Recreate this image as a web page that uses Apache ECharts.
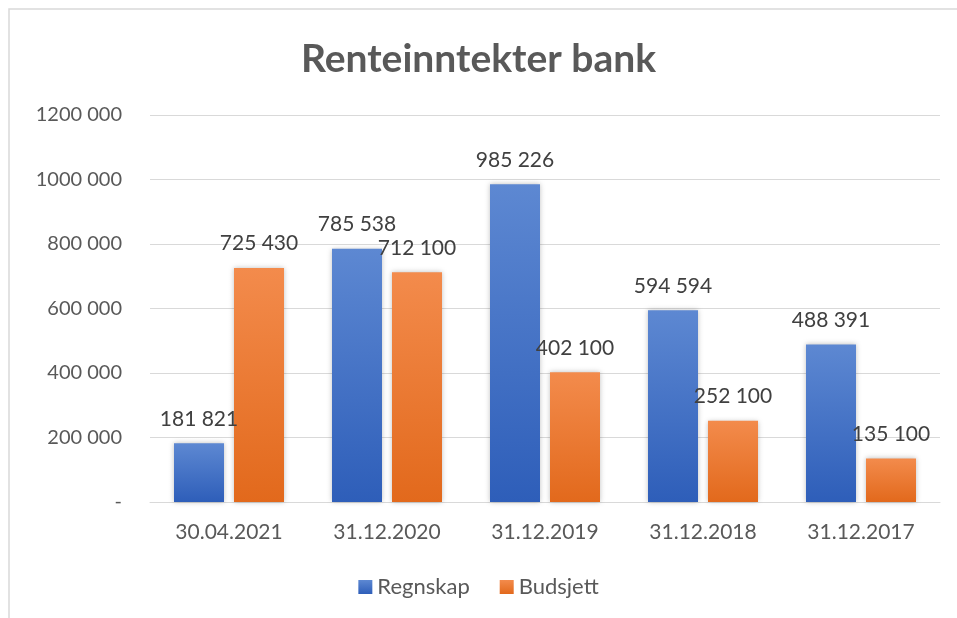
<!DOCTYPE html>
<html lang="no">
<head>
    <meta charset="UTF-8">
    <title>Renteinntekter bank</title>
    <script src="https://cdn.jsdelivr.net/npm/echarts@6/dist/echarts.min.js"></script>
    <style>
        html, body { margin: 0; padding: 0; background: #fff; }
    </style>
</head>
<body>
<div id="main" style="width: 957px; height: 618px;"></div>
<script type="text/javascript">
    // data
    var datoer = ['30.04.2021', '31.12.2020', '31.12.2019', '31.12.2018', '31.12.2017'];
    var regnskap = [181821, 785538, 985226, 594594, 488391];
    var budsjett = [725430, 712100, 402100, 252100, 135100];
    var yTekster = ['-', '200 000', '400 000', '600 000', '800 000', '1000 000', '1200 000'];

    var fontFam = 'Lato, "Open Sans", sans-serif';

    function tall(v) {
        return String(v).replace(/\B(?=(\d{3})+(?!\d))/g, ' ');
    }

    function grad(top, bottom) {
        return new echarts.graphic.LinearGradient(0, 0, 0, 1, [
            {offset: 0, color: top},
            {offset: 1, color: bottom}
        ]);
    }

    var myChart = echarts.init(document.getElementById('main'));

    var option = {
        backgroundColor: '#fff',
        title: {
            text: 'Renteinntekter bank',
            left: 'center',
            top: 35,
            textStyle: {
                fontFamily: fontFam,
                fontSize: 39,
                fontWeight: 'bold',
                color: '#595959'
            }
        },
        graphic: [{
            type: 'rect',
            shape: {x: 9, y: 9, width: 980, height: 640},
            style: {fill: 'none', stroke: '#d9d9d9', lineWidth: 1.5},
            silent: true
        }],
        legend: {
            bottom: 15,
            left: 'center',
            itemWidth: 14,
            itemHeight: 14,
            itemGap: 30,
            icon: 'rect',
            textStyle: {fontFamily: fontFam, fontSize: 22, color: '#595959'},
            data: ['Regnskap', 'Budsjett']
        },
        grid: {left: 150, right: 17, top: 115, bottom: 116},
        xAxis: {
            type: 'category',
            data: datoer,
            axisLine: {lineStyle: {color: '#d9d9d9', width: 1}},
            axisTick: {show: false},
            axisLabel: {fontFamily: fontFam, fontSize: 21, color: '#595959', margin: 20}
        },
        yAxis: {
            type: 'value',
            min: 0,
            max: 1200000,
            interval: 200000,
            axisLine: {show: false},
            axisTick: {show: false},
            splitLine: {lineStyle: {color: '#d9d9d9', width: 1}},
            axisLabel: {
                fontFamily: fontFam, fontSize: 20, color: '#595959', margin: 28,
                formatter: function (v) { return yTekster[Math.round(v / 200000)]; }
            }
        },
        series: [{
            name: 'Regnskap',
            type: 'bar',
            data: regnskap,
            barWidth: 50,
            barGap: '20%',
            itemStyle: {
                color: grad('#5d88d2', '#2e5eb9'),
                shadowColor: 'rgba(0,0,0,0.25)',
                shadowBlur: 5
            },
            label: {
                show: true,
                position: 'top',
                distance: 14,
                fontFamily: fontFam,
                fontSize: 21,
                color: '#404040',
                formatter: function (p) { return tall(p.value); }
            }
        }, {
            name: 'Budsjett',
            type: 'bar',
            data: budsjett,
            barWidth: 50,
            itemStyle: {
                color: grad('#f38b4c', '#e2691c'),
                shadowColor: 'rgba(0,0,0,0.25)',
                shadowBlur: 5
            },
            label: {
                show: true,
                position: 'top',
                distance: 14,
                fontFamily: fontFam,
                fontSize: 21,
                color: '#404040',
                formatter: function (p) { return tall(p.value); }
            }
        }]
    };
    myChart.setOption(option);
</script>
</body>
</html>
